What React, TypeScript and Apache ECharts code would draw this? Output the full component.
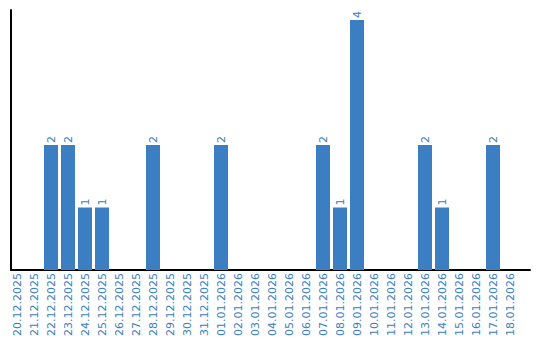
import React, { useEffect, useRef } from "react";
import * as echarts from "echarts";

const categories = [
  "20.12.2025", "21.12.2025", "22.12.2025", "23.12.2025", "24.12.2025", "25.12.2025",
  "26.12.2025", "27.12.2025", "28.12.2025", "29.12.2025", "30.12.2025", "31.12.2025",
  "01.01.2026", "02.01.2026", "03.01.2026", "04.01.2026", "05.01.2026", "06.01.2026",
  "07.01.2026", "08.01.2026", "09.01.2026", "10.01.2026", "11.01.2026", "12.01.2026",
  "13.01.2026", "14.01.2026", "15.01.2026", "16.01.2026", "17.01.2026", "18.01.2026",
];
const values = [0, 0, 2, 2, 1, 1, 0, 0, 2, 0, 0, 0, 2, 0, 0, 0, 0, 0, 2, 1, 4, 0, 0, 0, 2, 1, 0, 0, 2, 0];

const BLUE = "#3b7ec1";
const FONT = "DejaVu Sans";

export default function App() {
  const ref = useRef<HTMLDivElement>(null);
  useEffect(() => {
    const chart = echarts.init(ref.current!, null, { renderer: "svg" });
    chart.setOption({
      animation: false,
      grid: [
        { left: 8.5, width: 510, top: 10, bottom: 70 },
        { left: 11, right: 10, top: 10, bottom: 70 },
      ],
      xAxis: [
        {
          type: "category",
          gridIndex: 0,
          data: categories,
          axisLine: { show: false },
          axisTick: { show: false },
          axisLabel: {
            rotate: 90,
            interval: 0,
            margin: 3,
            color: BLUE,
            fontSize: 11,
            fontFamily: FONT,
          },
        },
        {
          type: "value",
          gridIndex: 1,
          min: 0,
          max: 1,
          axisLine: { show: true, lineStyle: { color: "#000", width: 2 } },
          axisTick: { show: false },
          axisLabel: { show: false },
          splitLine: { show: false },
        },
      ],
      yAxis: [
        {
          type: "value",
          gridIndex: 0,
          min: 0,
          max: 4.16,
          show: false,
          splitLine: { show: false },
        },
        {
          type: "value",
          gridIndex: 1,
          min: 0,
          max: 1,
          axisLine: { show: true, lineStyle: { color: "#000", width: 2 } },
          axisTick: { show: false },
          axisLabel: { show: false },
          splitLine: { show: false },
        },
      ],
      series: [
        {
          type: "bar",
          xAxisIndex: 0,
          yAxisIndex: 0,
          data: values.map((v) => (v === 0 ? null : v)),
          barWidth: 14,
          itemStyle: { color: BLUE },
          label: {
            show: true,
            position: "top",
            rotate: 90,
            align: "left",
            verticalAlign: "middle",
            distance: 2,
            color: BLUE,
            fontSize: 11,
            fontFamily: FONT,
          },
        },
      ],
    });
    return () => chart.dispose();
  }, []);
  return <div ref={ref} style={{ width: 540, height: 340, position: "absolute", left: 0, top: 0 }} />;
}
